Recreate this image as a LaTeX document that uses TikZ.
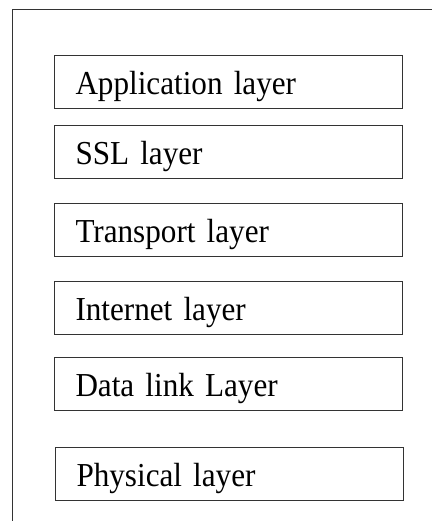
\documentclass[tikz,border=0pt]{standalone}
\usepackage{fontspec}
\setmainfont{Liberation Serif}[FakeStretch=0.93]
\usetikzlibrary{positioning}
\definecolor{frame-grey}{HTML}{333333}

\begin{document}
\begin{tikzpicture}[x=1pt, y=-1pt,
      every node/.style={font=\fontsize{33.5}{40}\selectfont},
      layerbox/.style={draw=frame-grey, line width=0.9pt, outer sep=0pt,
        inner xsep=21.5pt, inner ysep=0pt, text width=305pt, align=left,
        text height=39.5pt, text depth=13.5pt}]
    \useasboundingbox (0,0) rectangle (432,521);
    % open frame on the left and top
    \draw[frame-grey, line width=0.9pt] (12,521) -- (12,9.5) -- (432,9.5);
    \node[layerbox, anchor=north west] (app) at (54,55) {Application layer};
    \node[layerbox, below=17pt of app] (ssl) {SSL layer};
    \node[layerbox, below=25pt of ssl] (transport) {Transport layer};
    \node[layerbox, below=25pt of transport] (internet) {Internet layer};
    \node[layerbox, below=23pt of internet] (datalink) {Data link Layer};
    \node[layerbox, below=37pt of datalink, xshift=1pt] (physical) {Physical layer};
  \end{tikzpicture}
\end{document}
